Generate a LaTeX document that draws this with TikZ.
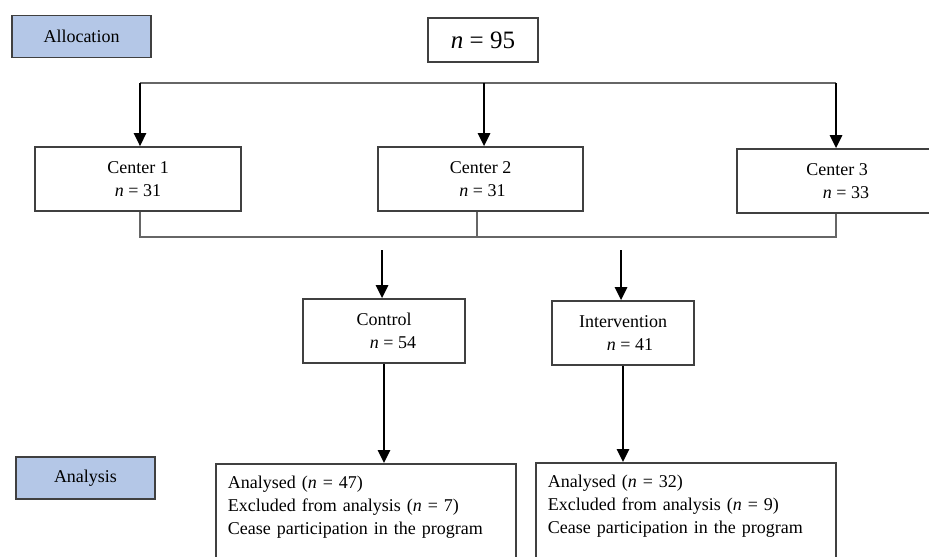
\documentclass[tikz,border=0pt]{standalone}
\usepackage{fontspec}
\setmainfont{Liberation Serif}
\usetikzlibrary{arrows.meta}
\definecolor{stageblue}{RGB}{180,199,231}
\newcommand{\nval}[1]{\textit{n} = #1}

\begin{document}
\begin{tikzpicture}[x=0.5pt, y=-0.5pt, auto]
    \tikzstyle{stage box} = [rectangle,draw=black!75,fill=stageblue,thick,inner sep=0pt,minimum width=69.5pt,minimum height=21pt,font=\fontsize{9}{11}\selectfont]
    \tikzstyle{flow box} = [rectangle,draw=black!75,fill=white,thick,inner sep=3pt,align=center,minimum height=32pt,font=\fontsize{9}{11.5}\selectfont]
    \tikzstyle{flow line} = [draw=black!60, line width=0.6pt]
    \tikzstyle{flow arrow} = [draw=black, line width=1.3pt, ->, >={Triangle[length=6.5pt,width=6pt]}]
\useasboundingbox (0,0) rectangle (929,556);
\node[stage box] (alloc) at (81.5, 36.5) {Allocation};
\node[stage box] (anal) at (85.5, 478) {Analysis};
\node[flow box, minimum width=55pt, minimum height=22pt, font=\fontsize{12.5}{14}\selectfont] (total) at (483, 40) {\nval{95}};
\node[flow box, minimum width=103pt] (c1) at (138, 179) {Center 1\\\nval{31}};
\node[flow box, minimum width=102.5pt] (c2) at (480.5, 179) {Center 2\\\hspace{2pt}\nval{31}};
\node[flow box, minimum width=100pt] (c3) at (837, 181) {Center 3\\\hspace{9pt}\nval{33}};
\node[flow box, minimum width=81pt] (ctrl) at (384, 331) {Control\\\hspace{9pt}\nval{54}};
\node[flow box, minimum width=71pt] (intv) at (623, 333) {Intervention\\\hspace{7pt}\nval{41}};
\node[flow box, anchor=north west, align=left, text width=138pt, inner sep=6pt] (res1) at (215, 463)
    {Analysed (\nval{47})\\Excluded from analysis (\nval{7})\\Cease participation in the program\\ \mbox{}};
\node[flow box, anchor=north west, align=left, text width=138pt, inner sep=6pt] (res2) at (535, 462)
    {Analysed (\nval{32})\\Excluded from analysis (\nval{9})\\Cease participation in the program\\ \mbox{}};
% split to the centers
\coordinate (s1) at (140, 83);
\coordinate (s2) at (484, 83);
\coordinate (s3) at (836, 83);
\draw[flow line] (s1) to (s3);
\draw[flow arrow] (s1) to (s1 |- c1.north);
\draw[flow arrow] (s2) to (s2 |- c2.north);
\draw[flow arrow] (s3) to (s3 |- c3.north);
% centers joined
\coordinate (j1) at (140, 237);
\coordinate (j2) at (477, 237);
\coordinate (j3) at (836, 237);
\draw[flow line] (c1.south -| j1) to (j1) -- (j3) -- (c3.south -| j3);
\draw[flow line] (c2.south -| j2) to (j2);
% groups
\coordinate (g1) at (382, 250);
\coordinate (g2) at (621, 250);
\draw[flow arrow] (g1) to (g1 |- ctrl.north);
\draw[flow arrow] (g2) to (g2 |- intv.north);
\draw[flow arrow] (ctrl) to (ctrl |- res1.north);
\draw[flow arrow] (intv) to (intv |- res2.north);
\end{tikzpicture}
\end{document}
